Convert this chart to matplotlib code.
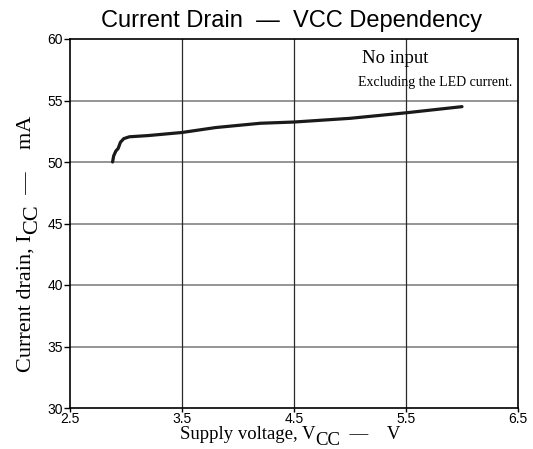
import matplotlib.pyplot as plt

W, H = 533, 449

# supply voltage (V) vs current drain (mA)
vcc = [2.88, 2.89, 2.91, 2.93, 2.95, 2.98, 3.03, 3.2, 3.5, 3.8, 4.2, 4.5, 5.0, 5.5, 6.0]
icc = [50.0, 50.5, 50.9, 51.1, 51.6, 51.9, 52.05, 52.15, 52.4, 52.8, 53.15, 53.25, 53.55, 54.0, 54.5]

x_ticks = [2.5, 3.5, 4.5, 5.5, 6.5]
y_ticks = [30, 35, 40, 45, 50, 55, 60]

fig = plt.figure(figsize=(W / 100, H / 100), dpi=100)
ax = fig.add_axes([70 / W, 41 / H, 448 / W, 369 / H])

ax.set_xlim(2.5, 6.5)
ax.set_ylim(30, 60)
ax.set_xticks(x_ticks)
ax.set_yticks(y_ticks)
ax.set_xticklabels([str(t) for t in x_ticks], family='Liberation Sans', fontsize=10)
ax.set_yticklabels([str(t) for t in y_ticks], family='Liberation Sans', fontsize=10)
ax.tick_params(axis='x', length=3, width=1, pad=0)
ax.tick_params(axis='y', length=4, width=1, pad=1)

# horizontal grid in grey, vertical grid darker
for y in y_ticks[1:-1]:
    ax.axhline(y, color='#8c8c8c', lw=1.3, zorder=1)
for x in x_ticks[1:-1]:
    ax.axvline(x, color='#2a2a2a', lw=0.9, zorder=1)

for s in ax.spines.values():
    s.set_linewidth(1.2)

ax.plot(vcc, icc, color='#1a1a1a', lw=2.3, solid_capstyle='round', zorder=3)

ax.text(5.11, 58.45, 'No input', family='Liberation Serif', fontsize=13.5,
        ha='left', va='center')
ax.text(6.45, 56.5, 'Excluding the LED current.', family='Liberation Serif',
        fontsize=10, ha='right', va='center')

fig.text(292 / W, 1 - 21 / H, 'Current Drain  —  VCC Dependency',
         family='Liberation Sans', fontsize=17, ha='center', va='center')


def label_run(x0, y0, parts, size, rotation=0):
    # lay out text pieces one after another, each with its own baseline shift
    renderer = fig.canvas.get_renderer()
    pos = x0 if rotation == 0 else y0
    for s, shift in parts:
        if rotation == 0:
            xy = (pos / W, (y0 - shift) / H)
        else:
            xy = ((x0 + shift) / W, pos / H)
        t = fig.text(xy[0], xy[1], s, family='Liberation Serif', fontsize=size,
                     rotation=rotation, rotation_mode='anchor',
                     ha='left', va='baseline')
        bb = t.get_window_extent(renderer)
        pos += bb.width if rotation == 0 else bb.height


label_run(180, H - 439, [('Supply voltage, V', 0), ('CC', 6), ('  —    V', 0)], 13.5)
label_run(31, H - 372, [('Current drain, I', 0), ('CC', 6), ('  —    mA', 0)], 16,
          rotation=90)

fig.savefig('out.png', dpi=100)
